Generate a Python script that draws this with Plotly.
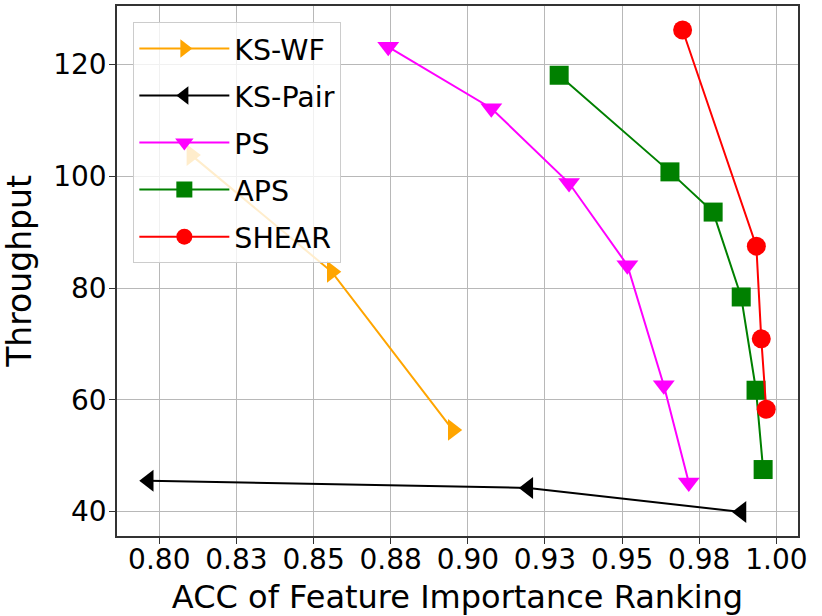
import plotly.graph_objects as go

# ---- data ----
ks_wf_x = [0.8104, 0.8559, 0.8951]
ks_wf_y = [103.8, 82.9, 54.6]

ks_pair_x = [0.7966, 0.9196, 0.9887]
ks_pair_y = [45.5, 44.2, 39.9]

ps_x = [0.8742, 0.9076, 0.9328, 0.9517, 0.9635, 0.9716]
ps_y = [123.2, 112.2, 98.8, 84.1, 62.6, 45.2]

aps_x = [0.9296, 0.9655, 0.9795, 0.9886, 0.9934, 0.9957]
aps_y = [118.1, 100.8, 93.6, 78.4, 61.7, 47.5]

shear_x = [0.9696, 0.9935, 0.9951, 0.9967]
shear_y = [126.2, 87.5, 70.9, 58.3]

x_tickvals = [0.800, 0.825, 0.850, 0.875, 0.900, 0.925, 0.950, 0.975, 1.000]
x_ticktext = ["0.80", "0.83", "0.85", "0.88", "0.90", "0.93", "0.95", "0.98", "1.00"]
y_tickvals = [40, 60, 80, 100, 120]

series = [
    ("KS-WF", ks_wf_x, ks_wf_y, "orange", "triangle-right", 19),
    ("KS-Pair", ks_pair_x, ks_pair_y, "black", "triangle-left", 19),
    ("PS", ps_x, ps_y, "magenta", "triangle-down", 19),
    ("APS", aps_x, aps_y, "green", "square", 19),
    ("SHEAR", shear_x, shear_y, "red", "circle", 19),
]

FONT = "DejaVu Sans"

fig = go.Figure()
for name, xs, ys, color, sym, sz in series:
    fig.add_trace(go.Scatter(
        x=xs, y=ys, name=name, mode="lines+markers",
        legendgroup=name,
        line=dict(color=color, width=2),
        marker=dict(color=color, symbol=sym, size=sz, line=dict(width=0)),
    ))

axis_common = dict(
    showline=True, linecolor="#333333", linewidth=1.5, mirror=True,
    showgrid=True, gridcolor="#b8b8b8", gridwidth=1.3,
    ticks="outside", ticklen=6, tickwidth=1.3, tickcolor="#333333",
    zeroline=False,
    tickfont=dict(family=FONT, size=28, color="black"),
)

fig.update_layout(
    width=822, height=616,
    margin=dict(l=115, r=24, t=6, b=80),
    paper_bgcolor="white", plot_bgcolor="white",
    font=dict(family=FONT, color="black"),
    showlegend=True,
    legend=dict(
        x=0.024, y=0.969, xanchor="left", yanchor="top",
        bgcolor="rgba(255,255,255,0.8)", bordercolor="#cccccc", borderwidth=1,
        font=dict(family=FONT, size=28.5, color="black"),
        traceorder="grouped", tracegroupgap=7,
        itemwidth=90,
    ),
    xaxis=dict(
        range=[0.7863, 1.0070],
        tickvals=x_tickvals, ticktext=x_ticktext,
        ticklabelstandoff=-8,
        title=dict(text="ACC of Feature Importance Ranking",
                   font=dict(family=FONT, size=32, color="black")),
        automargin=False,
        **axis_common,
    ),
    yaxis=dict(
        range=[35.6, 130.5],
        tickvals=y_tickvals,
        ticklabelstandoff=-3,
        title=dict(text="Throughput",
                   font=dict(family=FONT, size=33, color="black"), standoff=24),
        automargin=True,
        **axis_common,
    ),
)

# remove the page's default body margin so the figure fills the window exactly
fig.write_html("out.html", config={"displayModeBar": False},
               post_script="document.body.style.margin='0px';")
